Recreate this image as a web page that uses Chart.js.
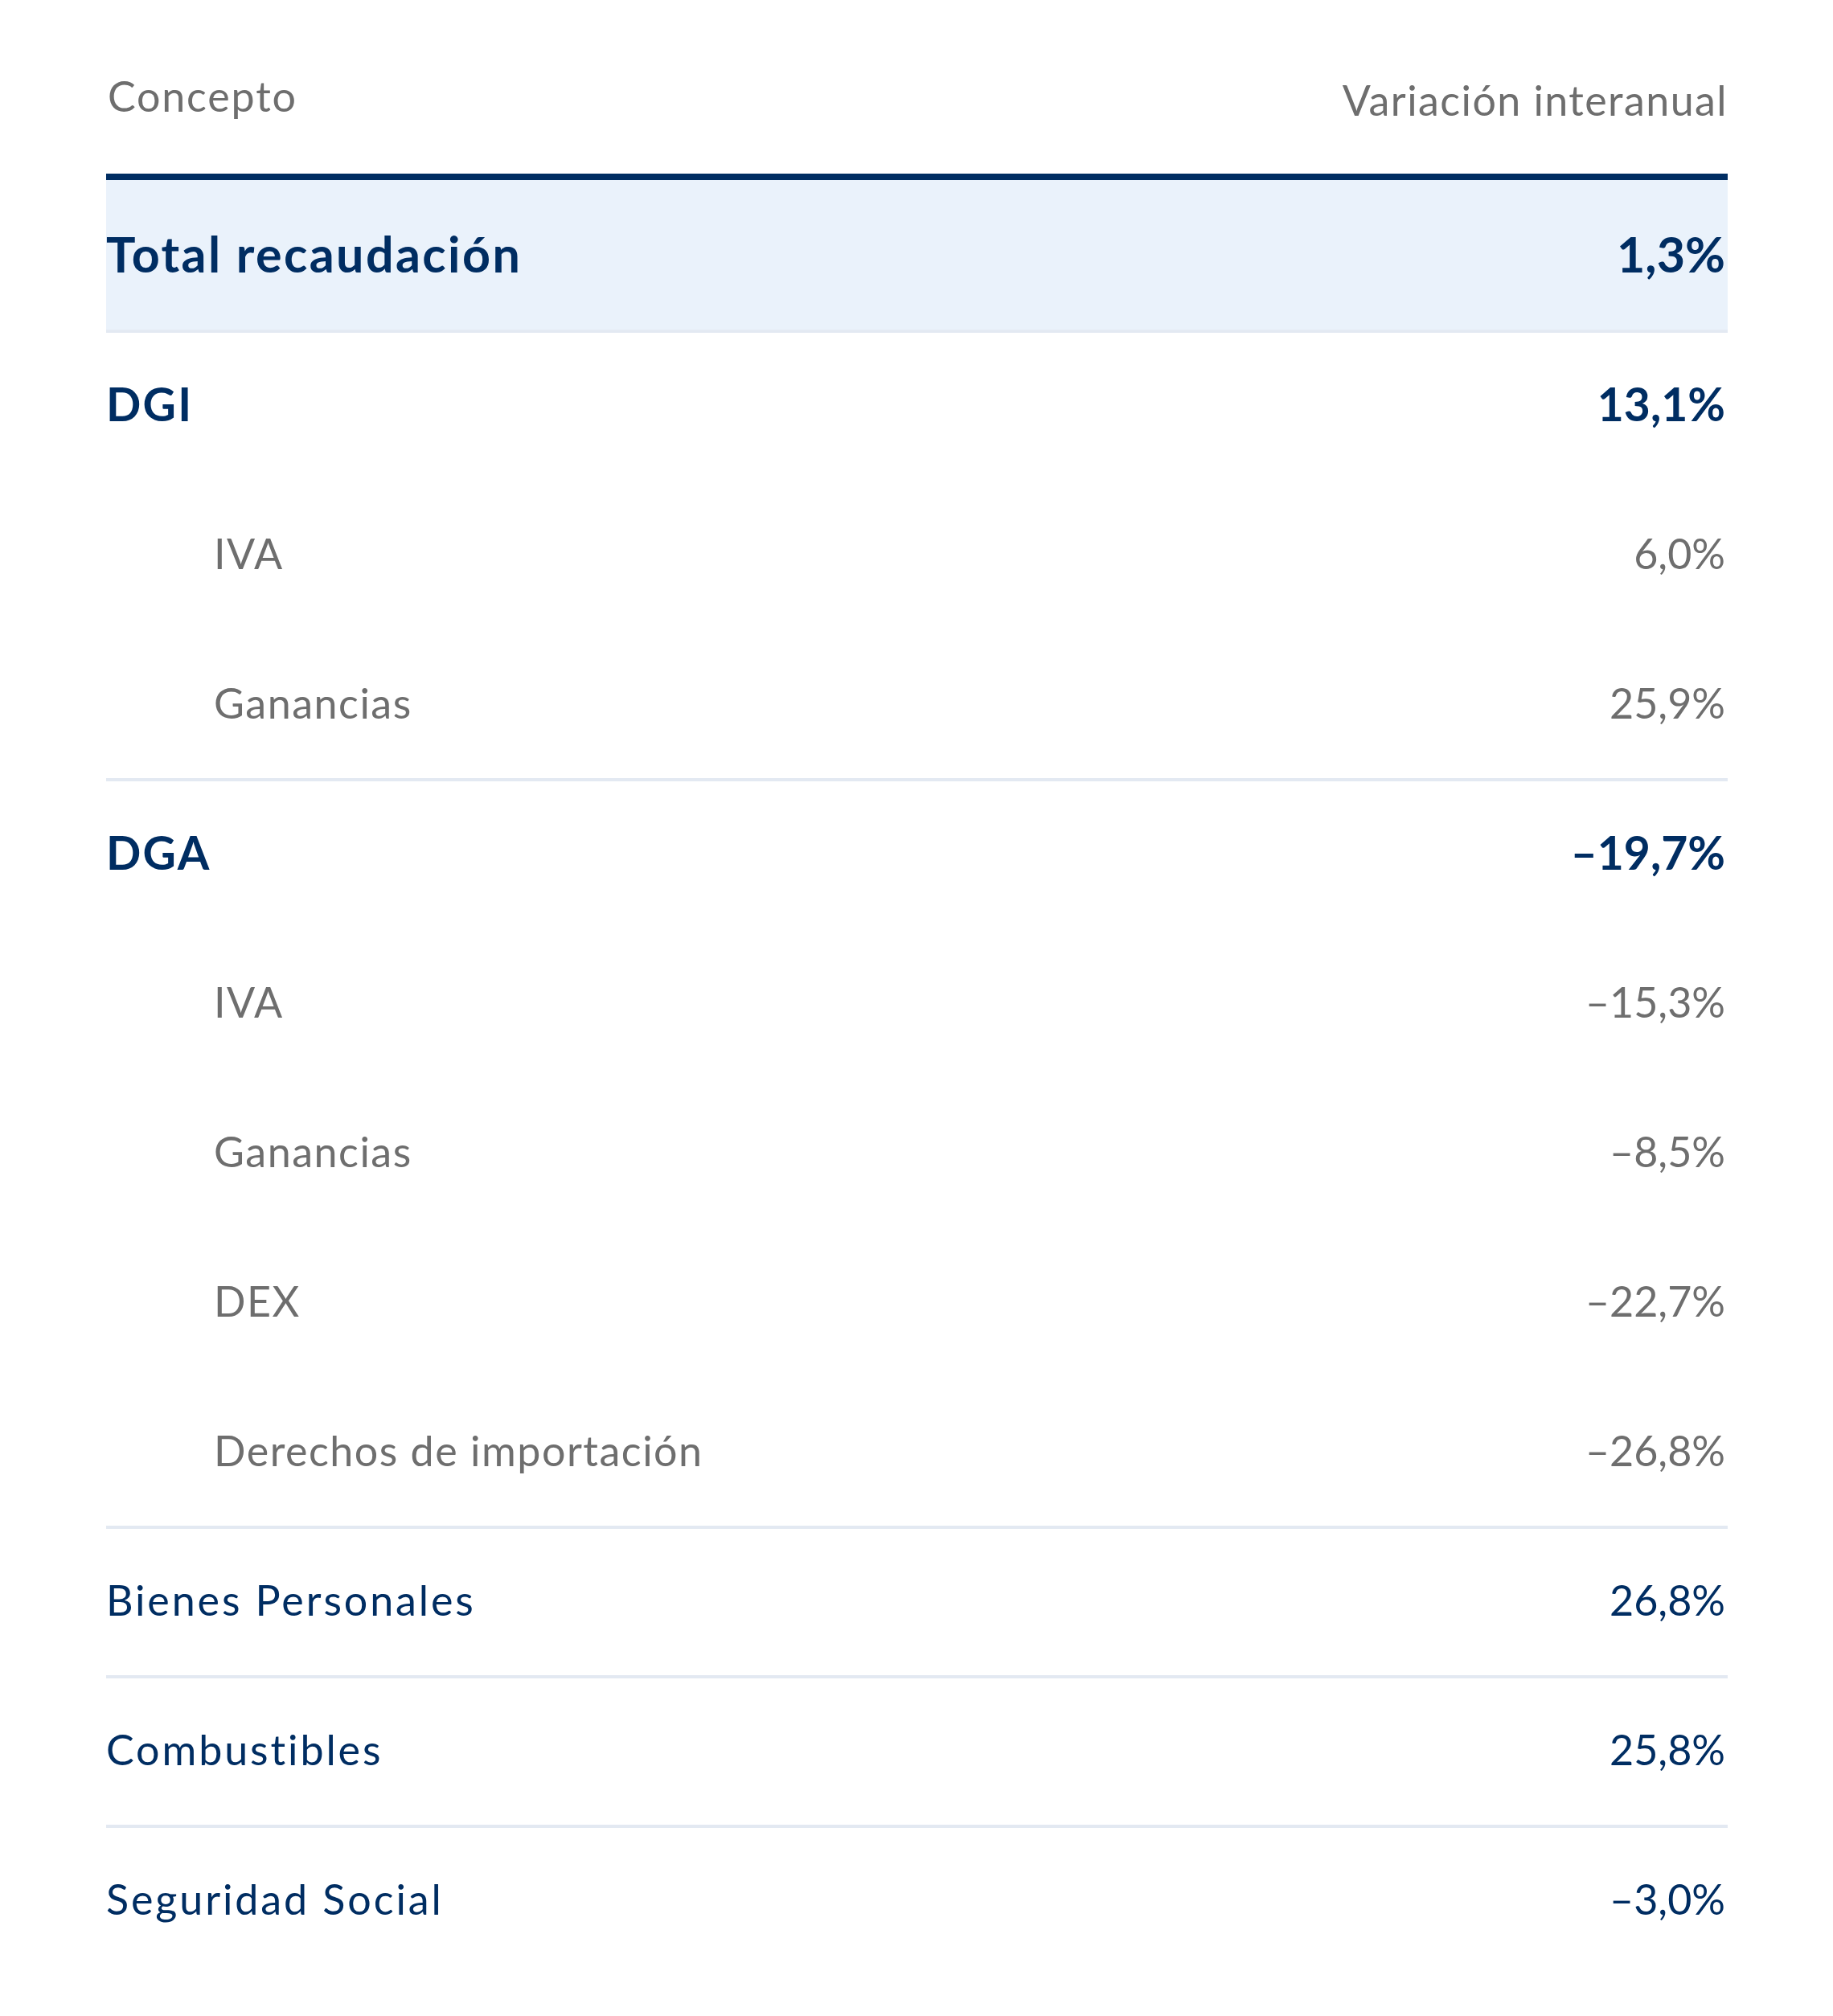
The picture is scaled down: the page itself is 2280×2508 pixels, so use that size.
<!DOCTYPE html>
<html>
<head>
<meta charset="utf-8">
<script src="https://cdn.jsdelivr.net/npm/chart.js@4.4.1/dist/chart.umd.min.js"></script>
<style>
  html, body { margin: 0; padding: 0; background: #ffffff; }
  #wrap { width: 2280px; height: 2508px; }
</style>
</head>
<body>
<div id="wrap"><canvas id="c" width="2280" height="2508"></canvas></div>
<script>
// ---- data ----
const headers = ['Concepto', 'Variación interanual'];
const concepts = ['Total recaudación', 'DGI', 'IVA', 'Ganancias', 'DGA', 'IVA', 'Ganancias', 'DEX', 'Derechos de importación', 'Bienes Personales', 'Combustibles', 'Seguridad Social'];
const variation = [1.3, 13.1, 6.0, 25.9, -19.7, -15.3, -8.5, -22.7, -26.8, 26.8, 25.8, -3.0];
const levels = ['total', 'group', 'item', 'item', 'group', 'item', 'item', 'item', 'item', 'single', 'single', 'single'];

// ---- styles ----
const NAVY = '#002d62';
const GRAY = '#6e6e6e';
const HIGHLIGHT = '#eaf2fb';
const SEP = '#e3e9f2';
const FONT = 'Lato, "Noto Sans", sans-serif';
const styleFor = {
  total:  { size: 61, weight: 'bold', color: NAVY, indent: 0, ls: 2.4 },
  group:  { size: 57, weight: 'bold', color: NAVY, indent: 0, ls: 2.2 },
  item:   { size: 52, weight: 'normal', color: GRAY, indent: 134, ls: 1.5 },
  single: { size: 52, weight: 'normal', color: NAVY, indent: 0, ls: 2.9 }
};

function fmt(v) {
  return (v < 0 ? '\u2013' : '') + Math.abs(v).toFixed(1).replace('.', ',') + '%';
}

const tablePlugin = {
  id: 'tablePlugin',
  beforeDatasetsDraw(chart) {
    const ctx = chart.ctx;
    const y = chart.scales.y, x = chart.scales.x;
    const left = x.getPixelForValue(0), right = x.getPixelForValue(1);
    const band = y.getPixelForValue(1) - y.getPixelForValue(0);
    ctx.save();
    ctx.fillStyle = SEP;
    for (let i = 0; i < concepts.length - 1; i++) {
      if (levels[i + 1] !== 'item') {
        const b = y.getPixelForValue(i) + band / 2;
        ctx.fillRect(left, b, right - left, 4);
      }
    }
    ctx.restore();
  },
  afterDatasetsDraw(chart) {
    const ctx = chart.ctx;
    const y = chart.scales.y, x = chart.scales.x;
    const left = x.getPixelForValue(0), right = x.getPixelForValue(1);
    const band = y.getPixelForValue(1) - y.getPixelForValue(0);
    const top = y.getPixelForValue(0) - band / 2;
    ctx.save();
    // header thick rule
    ctx.fillStyle = NAVY;
    ctx.fillRect(left, top - 8, right - left, 8);
    // header labels
    ctx.fillStyle = GRAY;
    ctx.font = 'normal 52px ' + FONT;
    ctx.textBaseline = 'alphabetic';
    ctx.textAlign = 'left';
    ctx.letterSpacing = '1.8px';
    ctx.fillText(headers[0], left + 2, top - 85);
    ctx.letterSpacing = '1.4px';
    ctx.textAlign = 'right';
    ctx.fillText(headers[1], right + 0, top - 80);
    // rows
    for (let i = 0; i < concepts.length; i++) {
      const s = styleFor[levels[i]];
      const cy = y.getPixelForValue(i);
      const base = cy + s.size * 0.36;
      ctx.font = s.weight + ' ' + s.size + 'px ' + FONT;
      ctx.fillStyle = s.color;
      ctx.letterSpacing = s.ls + 'px';
      ctx.textAlign = 'left';
      ctx.fillText(concepts[i], left + s.indent, base);
      ctx.letterSpacing = '0px';
      ctx.textAlign = 'right';
      ctx.fillText(fmt(variation[i]), right - 3, base);
    }
    ctx.restore();
  }
};

new Chart(document.getElementById('c'), {
  type: 'bar',
  data: {
    labels: concepts,
    datasets: [{
      label: 'highlight',
      data: levels.map(l => l === 'total' ? 1 : null),
      backgroundColor: HIGHLIGHT,
      borderWidth: 0,
      barPercentage: 1,
      categoryPercentage: 1
    }]
  },
  options: {
    indexAxis: 'y',
    responsive: false,
    devicePixelRatio: 1,
    animation: false,
    events: [],
    layout: { padding: { left: 132, right: 131, top: 224, bottom: 52 } },
    scales: {
      x: { type: 'linear', min: 0, max: 1, display: false },
      y: { type: 'category', offset: true, display: false }
    },
    plugins: { legend: { display: false }, tooltip: { enabled: false } }
  },
  plugins: [tablePlugin]
});
</script>
</body>
</html>
